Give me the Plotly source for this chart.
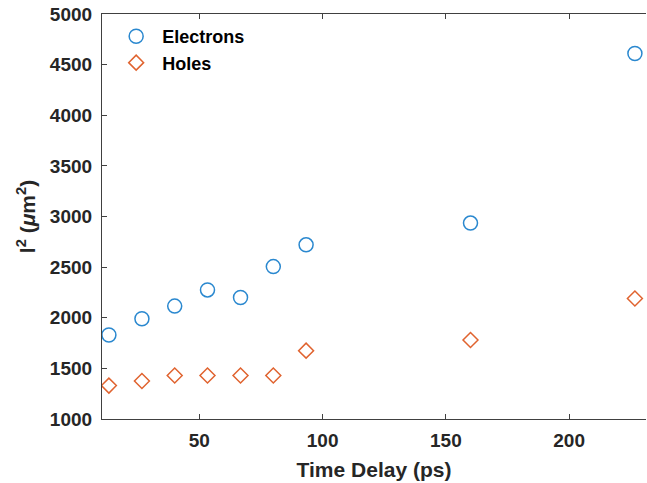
import plotly.graph_objects as go

time_delay = [13.3, 26.7, 40.0, 53.3, 66.7, 80.0, 93.3, 160.0, 226.7]
electrons = [1830, 1990, 2115, 2275, 2200, 2505, 2720, 2935, 4610]
holes = [1330, 1375, 1430, 1430, 1430, 1430, 1675, 1780, 2190]

blue = "#2a88cf"
orange = "#e0632f"
font_family = "Liberation Sans, Arial, Helvetica, sans-serif"

fig = go.Figure()
fig.add_trace(go.Scatter(
    x=time_delay, y=electrons, mode="markers", name="<b>Electrons</b>",
    marker=dict(symbol="circle-open", size=14, color=blue, line=dict(width=1.5, color=blue)),
))
fig.add_trace(go.Scatter(
    x=time_delay, y=holes, mode="markers", name="<b>Holes</b>",
    marker=dict(symbol="diamond-open", size=11.5, color=orange, line=dict(width=1.5, color=orange)),
))

axis_common = dict(
    showgrid=False, zeroline=False, showline=True, linecolor="#404040", linewidth=1.2,
    ticks="inside", ticklen=5, tickcolor="#404040", tickwidth=1.2,
    tickfont=dict(family=font_family, size=19, color="#262626", weight="bold"),
)

fig.update_layout(
    width=647, height=483,
    margin=dict(l=102, r=1, t=14, b=64),
    paper_bgcolor="white", plot_bgcolor="white",
    font=dict(family=font_family, color="#262626"),
    xaxis=dict(
        range=[10.5, 231.2], tickvals=[50, 100, 150, 200], mirror="ticks",
        ticklabelstandoff=4,
        title=dict(text="<b>Time Delay (ps)</b>", font=dict(size=21, family=font_family, color="#262626"), standoff=12),
        **axis_common,
    ),
    yaxis=dict(
        range=[1000, 5000], tickvals=[1000, 1500, 2000, 2500, 3000, 3500, 4000, 4500, 5000],
        ticklabelstandoff=5,
        title=dict(text="<b>l<sup>2</sup> (<i>μ</i>m<sup>2</sup>)</b>", font=dict(size=21, family=font_family, color="#262626"), standoff=8),
        **axis_common,
    ),
    legend=dict(
        x=0.015, y=0.99, xanchor="left", yanchor="top",
        bgcolor="rgba(0,0,0,0)", borderwidth=0,
        font=dict(family=font_family, size=18, color="#000000"),
        itemwidth=42, tracegroupgap=0,
    ),
    showlegend=True,
)

fig.write_html(
    "out.html",
    config={"displayModeBar": False},
    post_script="document.body.style.margin='0';document.body.style.overflow='hidden';",
)
